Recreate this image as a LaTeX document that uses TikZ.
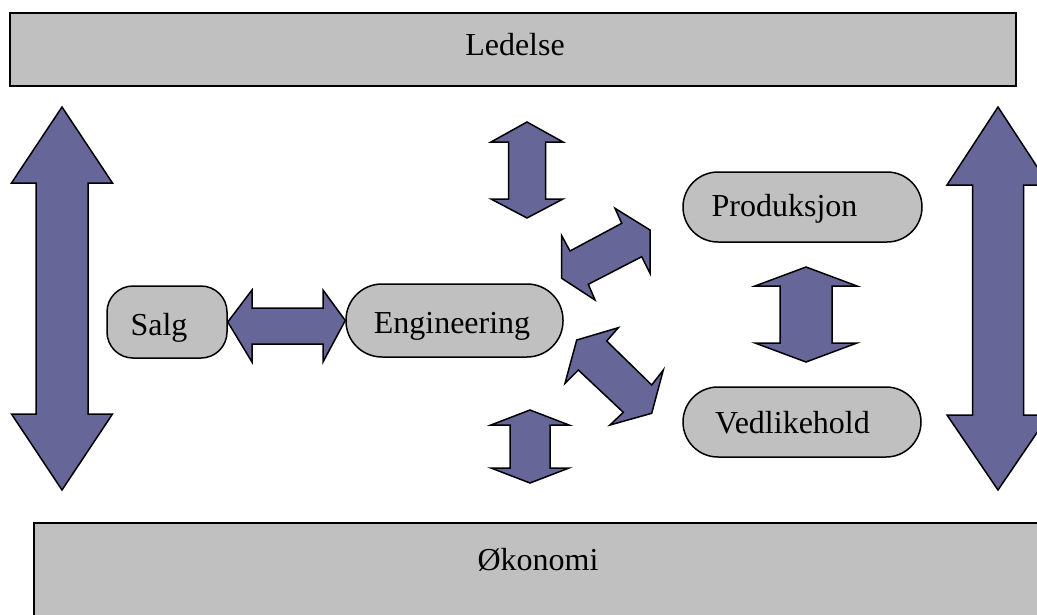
\documentclass[tikz,border=0pt]{standalone}
\usepackage{fontspec}
\setmainfont{Liberation Serif}
\definecolor{boxgray}{RGB}{192,192,192}
\definecolor{arrowblue}{RGB}{102,102,153}
% vertical double block arrow: x, top tip, top head base, bottom head base, bottom tip, head half-width, shaft half-width
\newcommand\VArrow[7]{%
  \draw[block] (#1,#2) -- ({#1+#6},#3) -- ({#1+#7},#3) -- ({#1+#7},#4) -- ({#1+#6},#4)
    -- (#1,#5) -- ({#1-#6},#4) -- ({#1-#7},#4) -- ({#1-#7},#3) -- ({#1-#6},#3) -- cycle;}
\begin{document}
\begin{tikzpicture}[x=1pt,y=-1pt,
  box/.style={draw=black, line width=1.5pt, fill=boxgray, rectangle, inner sep=0pt},
  block/.style={draw=black, line width=1.5pt, fill=arrowblue, line join=miter},
  lbl/.style={anchor=base, inner sep=0pt, font=\fontsize{32}{38}\selectfont}]
\useasboundingbox (0,0) rectangle (1037,614);
\clip (0,0) rectangle (1037,614);

% department boxes
\node[box, line width=1.8pt, minimum width=1006pt, minimum height=73pt] (ledelse) at (513,49.5) {};
\node[box, line width=1.8pt, minimum width=1011pt, minimum height=127pt] (okonomi) at (539.5,586.5) {};
\node[box, rounded corners=26pt, minimum width=120pt, minimum height=72pt] (salg) at (167,322) {};
\node[box, rounded corners=36pt, minimum width=217pt, minimum height=73pt] (eng) at (454.5,320.5) {};
\node[box, rounded corners=35pt, minimum width=239pt, minimum height=70pt] (prod) at (802.5,207) {};
\node[box, rounded corners=35pt, minimum width=238pt, minimum height=70pt] (ved) at (802,422) {};

% labels
\node[lbl] (t-ledelse) at (515,55) {Ledelse};
\node[lbl] (t-okonomi) at (538,570) {Økonomi};
\node[lbl] (t-salg) at (159,335) {Salg};
\node[lbl] (t-eng) at (452,333) {Engineering};
\node[lbl] (t-prod) at (784.5,216.5) {Produksjon};
\node[lbl] (t-ved) at (792.5,433) {Vedlikehold};

% vertical double arrows
\VArrow{62}{107}{183}{414}{490}{50.5}{26}
\VArrow{998}{107}{185}{415}{490}{51}{25.5}
\VArrow{527}{122}{142}{199}{218}{36}{18.5}
\VArrow{530}{410}{425}{468}{483}{39}{20}
\VArrow{806}{267}{286}{343}{362}{51}{26}

% Salg <-> Engineering
\draw[block] (salg.east) -- (252,290) -- (252,308) -- (323,308) -- (323,290)
  -- (eng.west) -- (323,362) -- (323,344) -- (252,344) -- (252,362) -- cycle;

% Engineering <-> Produksjon
\draw[block] (561.7,235.7) -- (570,251) -- (621.7,223.3) -- (615,208.3) -- (650,230)
  -- (650,273.3) -- (641.7,256.7) -- (588.3,284.3) -- (595,300) -- (561.7,278.3) -- cycle;

% Engineering <-> Vedlikehold
\draw[block] (576.7,340) -- (618.3,327.7) -- (606.7,341) -- (651.7,385) -- (663.3,370)
  -- (651.7,413.3) -- (610,425) -- (623.3,412.3) -- (578.3,370) -- (565,383.3) -- cycle;
\end{tikzpicture}
\end{document}
